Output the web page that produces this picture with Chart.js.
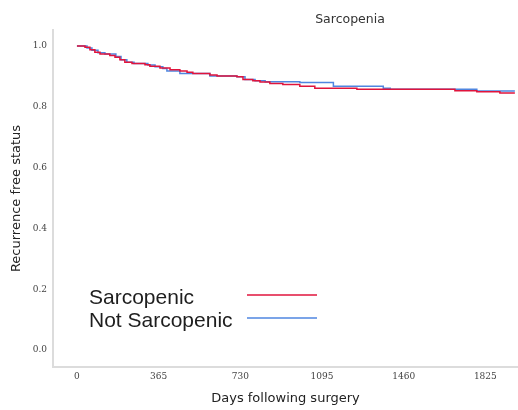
<!DOCTYPE html>
<html>
<head>
<meta charset="utf-8">
<title>Sarcopenia</title>
<script src="https://cdn.jsdelivr.net/npm/chart.js@4/dist/chart.umd.min.js"></script>
<style>
    html, body { margin: 0; padding: 0; background: #ffffff; }
    #kmChart { display: block; }
</style>
</head>
<body>
<canvas id="kmChart" width="518" height="410"></canvas>
<script>
// Kaplan-Meier steps: day of each drop and the survival value after it
const seriesNames = ['Sarcopenic', 'Not Sarcopenic'];

const sarcDays = [0, 36, 58, 80, 103, 147, 170, 192, 214, 246, 304, 326, 371, 416, 460, 492, 518, 594, 626, 715, 742, 786, 818, 862, 920, 996, 1063, 1251, 1689, 1787, 1890, 1957];
const sarcSurv = [1.0, 0.996, 0.988, 0.980, 0.974, 0.969, 0.963, 0.955, 0.947, 0.943, 0.939, 0.934, 0.928, 0.922, 0.918, 0.914, 0.910, 0.905, 0.902, 0.899, 0.890, 0.886, 0.882, 0.877, 0.874, 0.868, 0.861, 0.858, 0.853, 0.850, 0.846, 0.846];

const notSarcDays = [0, 45, 67, 94, 125, 174, 197, 223, 255, 317, 349, 384, 402, 460, 594, 715, 751, 796, 841, 996, 1146, 1369, 1400, 1787, 1957];
const notSarcSurv = [1.0, 0.994, 0.986, 0.978, 0.974, 0.966, 0.955, 0.947, 0.943, 0.938, 0.932, 0.926, 0.918, 0.910, 0.902, 0.899, 0.890, 0.886, 0.883, 0.880, 0.868, 0.861, 0.858, 0.852, 0.852];

const xTicks = [0, 365, 730, 1095, 1460, 1825];
const yTicks = [0, 0.2, 0.4, 0.6, 0.8, 1.0];

const lineColors = ['#e0143c', '#4f86e0'];

function toPoints(days, surv) {
    return days.map(function (d, i) { return { x: d, y: surv[i] }; });
}

// title plus the big text legend inside the plot
const annotations = {
    id: 'annotations',
    afterDraw: function (chart) {
        const ctx = chart.ctx;
        ctx.save();

        ctx.fillStyle = '#333333';
        ctx.font = '12.5px "DejaVu Sans"';
        ctx.textAlign = 'center';
        ctx.textBaseline = 'middle';
        ctx.fillText('Sarcopenia', 350, 20);

        ctx.font = '21px "Liberation Sans"';
        ctx.textAlign = 'left';
        ctx.textBaseline = 'alphabetic';
        const rows = [
            { text: chart.data.datasets[0].label, base: 304, line: 295, color: chart.data.datasets[0].borderColor },
            { text: chart.data.datasets[1].label, base: 327, line: 318, color: chart.data.datasets[1].borderColor }
        ];
        rows.forEach(function (r) {
            ctx.fillStyle = '#1e1e1e';
            ctx.fillText(r.text, 89, r.base);
            ctx.strokeStyle = r.color;
            ctx.lineWidth = 1.5;
            ctx.beginPath();
            ctx.moveTo(247, r.line);
            ctx.lineTo(317, r.line);
            ctx.stroke();
        });

        ctx.restore();
    }
};

document.addEventListener('DOMContentLoaded', function () {

    const chartCanvas = document.getElementById('kmChart');

    new Chart(chartCanvas, {

        type: 'line',

        data: {
            datasets: [
                {
                    label: seriesNames[0],
                    data: toPoints(sarcDays, sarcSurv),
                    borderColor: lineColors[0],
                    borderWidth: 1.5,
                    pointRadius: 0,
                    stepped: true,
                    fill: false
                },
                {
                    label: seriesNames[1],
                    data: toPoints(notSarcDays, notSarcSurv),
                    borderColor: lineColors[1],
                    borderWidth: 1.5,
                    pointRadius: 0,
                    stepped: true,
                    fill: false
                }
            ]
        },

        options: {

            responsive: false,
            animation: false,

            layout: {
                padding: { top: 30, right: 0, bottom: 0, left: 0 }
            },

            plugins: {
                legend: { display: false },
                title: { display: false },
                tooltip: { enabled: false }
            },

            scales: {

                x: {
                    type: 'linear',
                    min: -107,
                    max: 1971,
                    afterBuildTicks: function (scale) {
                        scale.ticks = xTicks.map(function (v) { return { value: v }; });
                    },
                    afterFit: function (scale) {
                        scale.height = 43;
                    },
                    ticks: {
                        padding: 4,
                        color: '#444444',
                        font: { family: '"DejaVu Serif"', size: 9 },
                        maxRotation: 0,
                        callback: function (v) { return String(v); }
                    },
                    grid: { display: false, drawTicks: false },
                    border: { display: true, color: '#dcdcdc', width: 2 },
                    title: {
                        display: true,
                        text: 'Days following surgery',
                        color: '#222222',
                        font: { family: '"DejaVu Sans"', size: 13 },
                        padding: { top: 0, bottom: 4 }
                    }
                },

                y: {
                    type: 'linear',
                    min: -0.056,
                    max: 1.053,
                    afterBuildTicks: function (scale) {
                        scale.ticks = yTicks.map(function (v) { return { value: v }; });
                    },
                    afterFit: function (scale) {
                        scale.width = 53;
                    },
                    ticks: {
                        padding: 6,
                        color: '#444444',
                        font: { family: '"DejaVu Serif"', size: 9 },
                        callback: function (v) { return Number(v).toFixed(1); }
                    },
                    grid: { display: false, drawTicks: false },
                    border: { display: true, color: '#dcdcdc', width: 2 },
                    title: {
                        display: true,
                        text: 'Recurrence free status',
                        color: '#222222',
                        font: { family: '"DejaVu Sans"', size: 13 },
                        padding: { top: 9, bottom: 0 }
                    }
                }

            }

        },

        plugins: [annotations]

    });

});
</script>
</body>
</html>
